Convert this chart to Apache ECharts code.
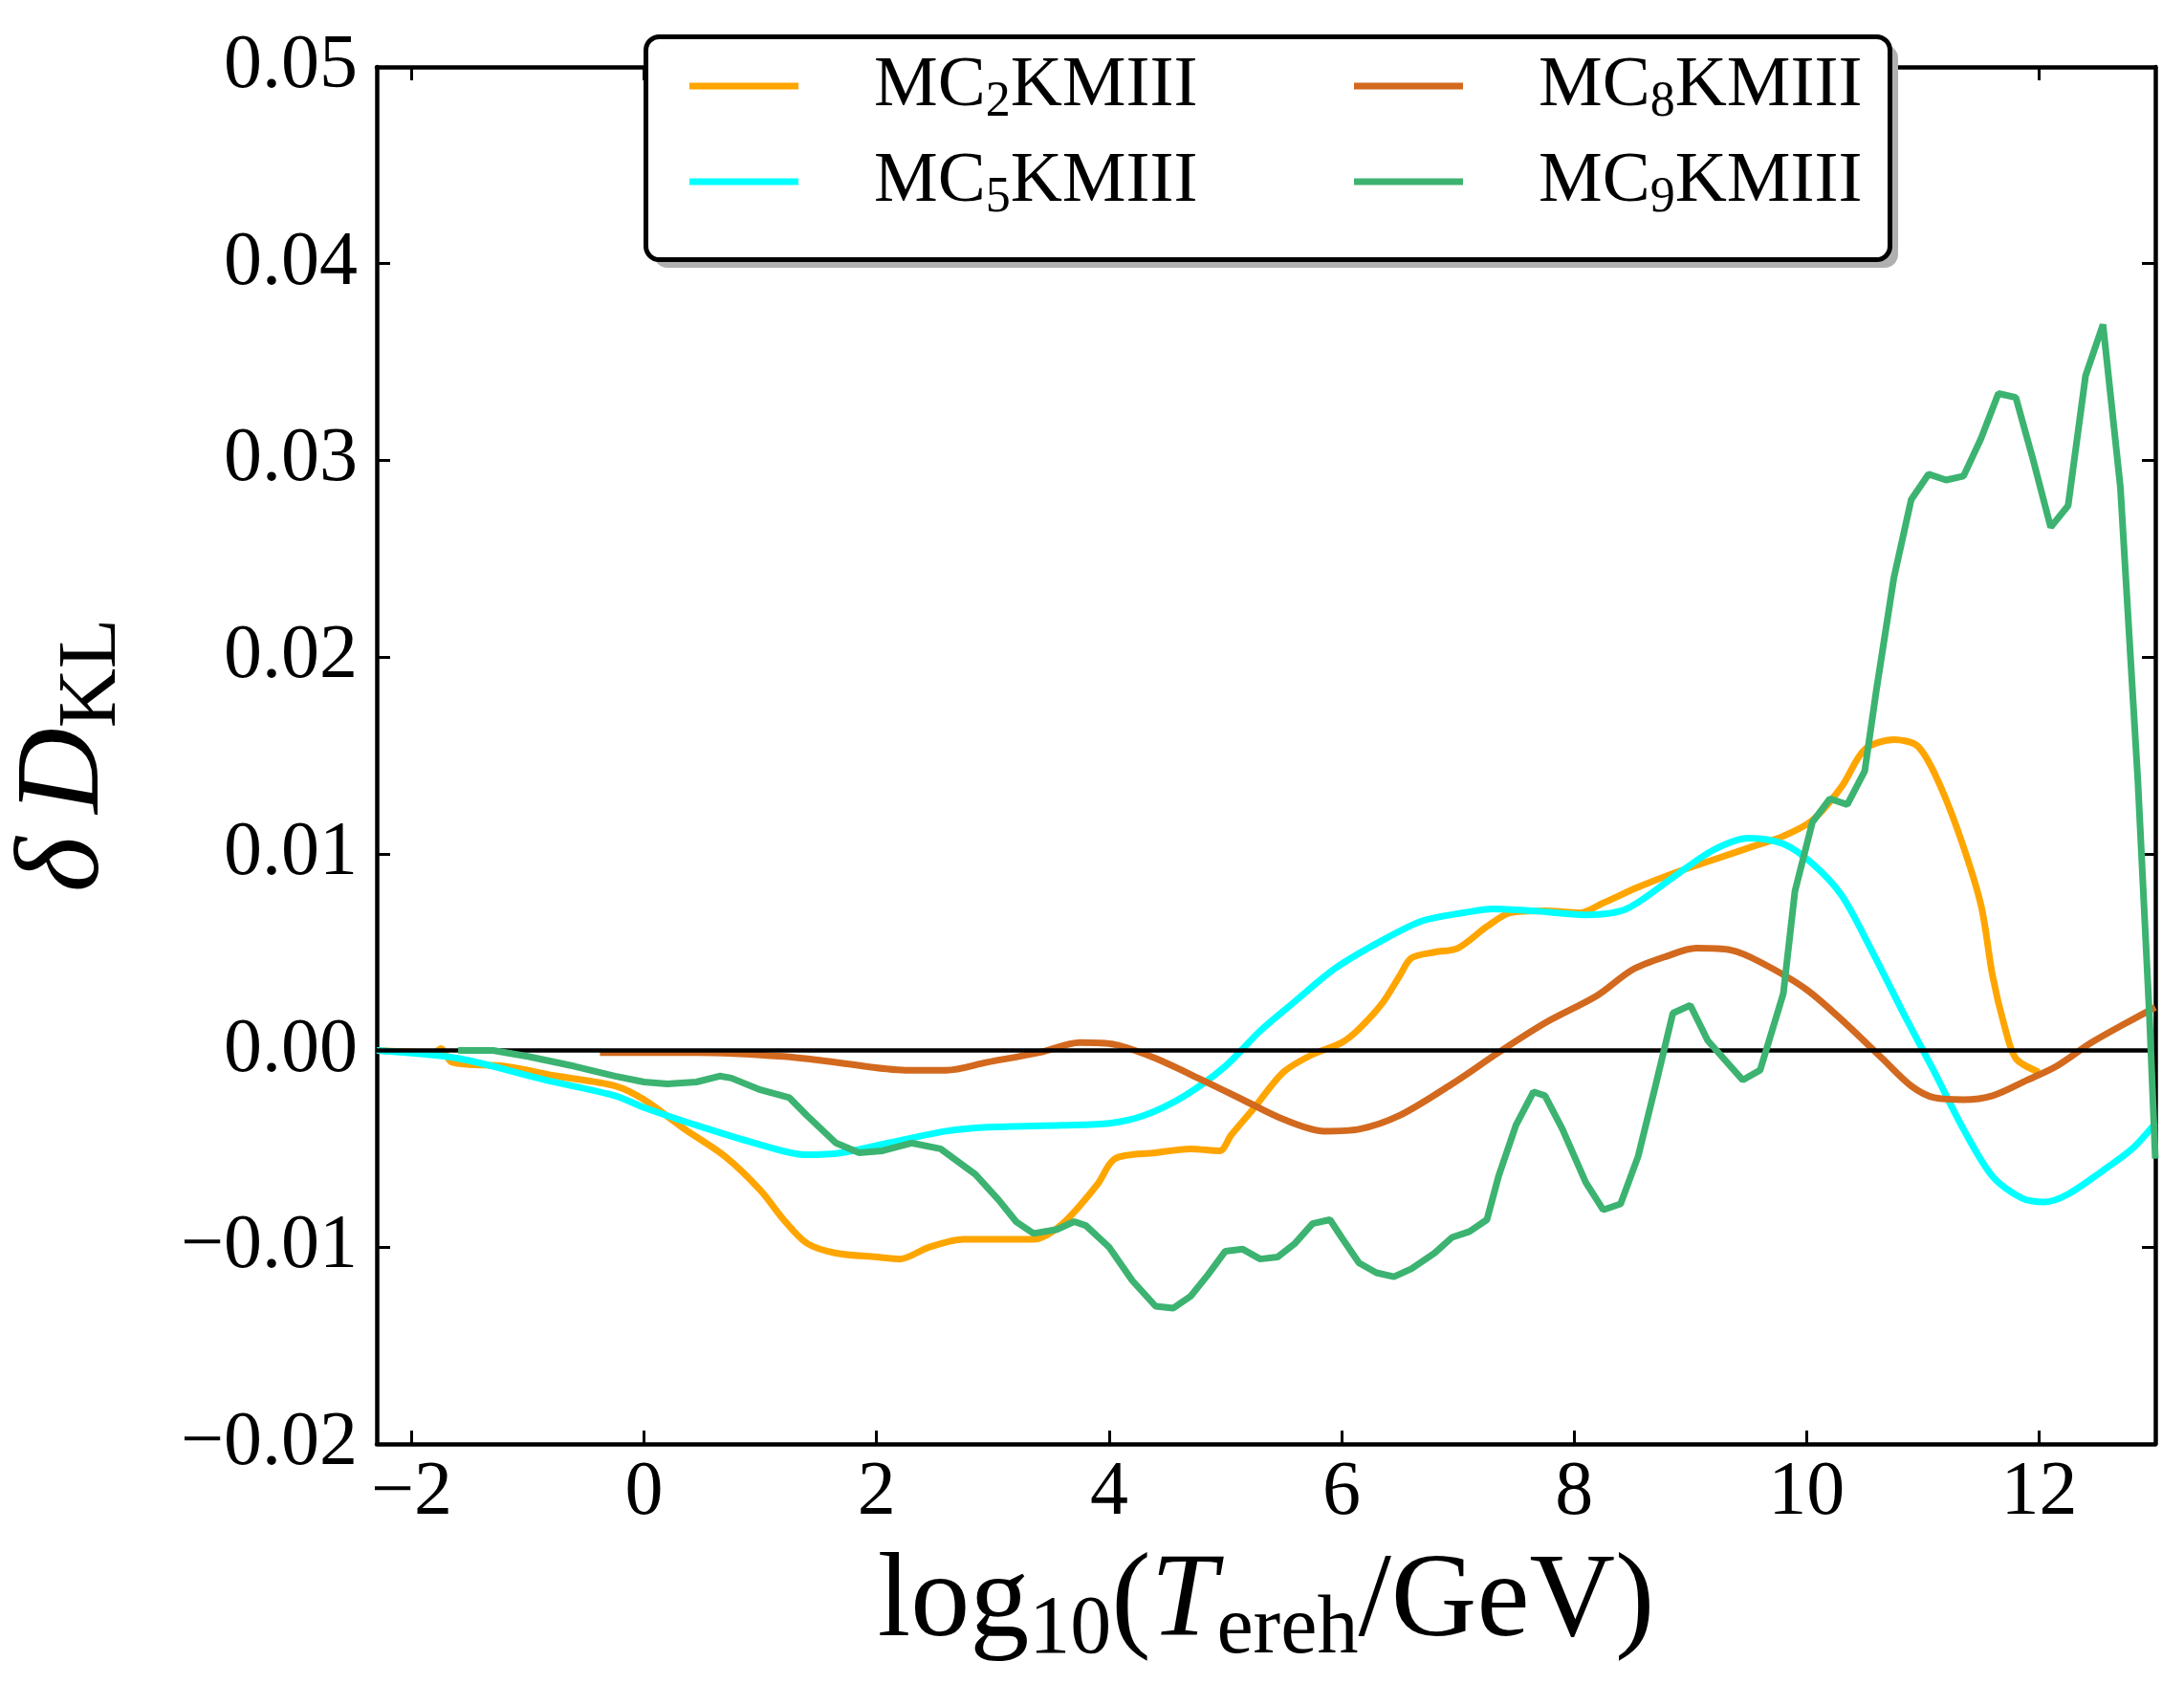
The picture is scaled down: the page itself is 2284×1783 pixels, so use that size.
<!DOCTYPE html>
<html><head><meta charset="utf-8">
<script src="https://cdn.jsdelivr.net/npm/echarts@6/dist/echarts.min.js"></script>
<style>html,body{margin:0;padding:0;background:#fff}#c{width:2284px;height:1783px}</style>
</head><body><div id="c"></div>
<script>
// ---- data ----
const seriesNames = ['MC2KMIII', 'MC5KMIII', 'MC8KMIII', 'MC9KMIII'];
const xTicks = [-2, 0, 2, 4, 6, 8, 10, 12];
const yTicks = [-0.02, -0.01, 0.00, 0.01, 0.02, 0.03, 0.04, 0.05];

const xMC2 = [-2.3,-1.8,-1.75,-1.65,-1.2,-0.75,-0.25,0,0.35,0.7,1.0,1.2,1.4,1.65,2.0,2.2,2.45,2.75,3.1,3.35,3.6,3.9,4.05,4.4,4.7,4.95,5.05,5.25,5.5,5.75,6.0,6.15,6.35,6.5,6.6,6.8,7.0,7.25,7.45,7.75,8.05,8.25,8.55,8.85,9.2,9.55,9.8,10.05,10.3,10.5,10.75,10.95,11.1,11.3,11.5,11.6,11.7,11.8,12.0];
const yMC2 = [0,-0.0001,0.0001,-0.0006,-0.0008,-0.0013,-0.0018,-0.0025,-0.004,-0.0054,-0.0071,-0.0086,-0.0098,-0.0103,-0.0105,-0.0106,-0.01,-0.0096,-0.0096,-0.0096,-0.0088,-0.0068,-0.0055,-0.0052,-0.005,-0.0051,-0.0043,-0.0029,-0.0011,-0.0002,0.0004,0.0011,0.0024,0.0038,0.0047,0.005,0.0052,0.0063,0.007,0.0071,0.007,0.0075,0.0083,0.009,0.0097,0.0104,0.0109,0.0117,0.0134,0.0153,0.0158,0.0155,0.0141,0.0112,0.0074,0.0038,0.0013,-0.0004,-0.0011];

const xMC5 = [-2.3,-1.6,-0.85,-0.25,0,0.45,0.95,1.4,1.7,2.1,2.6,2.95,3.6,4.0,4.3,4.65,5.0,5.3,5.6,5.95,6.35,6.7,7.05,7.3,7.65,8.1,8.45,8.85,9.2,9.5,9.8,10.05,10.3,10.55,10.85,11.1,11.35,11.6,11.85,12.05,12.25,12.55,12.8,13.0];
const yMC5 = [0,-0.0004,-0.0015,-0.0023,-0.0029,-0.0038,-0.0047,-0.0053,-0.0052,-0.0047,-0.0041,-0.0039,-0.0038,-0.0037,-0.0033,-0.0023,-0.0008,0.001,0.0025,0.0042,0.0056,0.0066,0.007,0.0072,0.0071,0.0069,0.0072,0.0088,0.0102,0.0108,0.0105,0.0095,0.0079,0.0052,0.0017,-0.0011,-0.004,-0.0064,-0.0075,-0.0077,-0.0073,-0.0061,-0.005,-0.0037];

const xMC8 = [-0.38,0.45,1.2,1.65,2.25,2.6,2.95,3.4,3.75,4.05,4.4,4.8,5.15,5.5,5.85,6.15,6.5,6.95,7.35,7.75,8.2,8.5,8.8,9.05,9.35,9.6,10.0,10.35,10.65,10.9,11.1,11.35,11.6,11.9,12.15,12.45,12.75,13.0];
const yMC8 = [-0.0001,-0.0001,-0.0003,-0.0006,-0.001,-0.001,-0.0006,-0.0001,0.0004,0.0003,-0.0004,-0.0015,-0.0025,-0.0035,-0.0041,-0.004,-0.0033,-0.0017,-0.0001,0.0014,0.0028,0.0041,0.0048,0.0052,0.0051,0.0045,0.0031,0.0013,-0.0004,-0.0018,-0.0024,-0.0025,-0.0023,-0.0015,-0.0008,0.0004,0.0014,0.0022];

const xMC9 = [-1.6,-1.3,-1.0,-0.6,-0.25,0.0,0.2,0.45,0.65,0.75,1.0,1.25,1.4,1.65,1.85,2.05,2.3,2.55,2.85,3.05,3.2,3.35,3.55,3.7,3.8,4.0,4.2,4.4,4.55,4.7,4.85,5.0,5.15,5.3,5.45,5.6,5.75,5.9,6.0,6.15,6.3,6.45,6.6,6.8,6.95,7.1,7.25,7.35,7.5,7.65,7.75,7.9,8.1,8.25,8.4,8.55,8.7,8.85,9.0,9.15,9.45,9.6,9.8,9.9,10.05,10.2,10.35,10.5,10.6,10.75,10.9,11.05,11.2,11.35,11.5,11.65,11.8,11.95,12.1,12.25,12.4,12.55,12.7,12.85,12.95,13.0];
const yMC9 = [0,0,-0.0003,-0.0008,-0.0013,-0.0016,-0.0017,-0.0016,-0.0013,-0.0014,-0.002,-0.0024,-0.0033,-0.0047,-0.0052,-0.0051,-0.0047,-0.005,-0.0063,-0.0076,-0.0087,-0.0093,-0.0091,-0.0087,-0.0089,-0.01,-0.0117,-0.013,-0.0131,-0.0125,-0.0114,-0.0102,-0.0101,-0.0106,-0.0105,-0.0098,-0.0088,-0.0086,-0.0095,-0.0108,-0.0113,-0.0115,-0.0111,-0.0103,-0.0095,-0.0092,-0.0086,-0.0064,-0.0038,-0.0021,-0.0023,-0.004,-0.0067,-0.0081,-0.0078,-0.0054,-0.0018,0.0019,0.0023,0.0005,-0.0015,-0.001,0.0029,0.0081,0.0116,0.0128,0.0125,0.0142,0.0183,0.024,0.028,0.0293,0.029,0.0292,0.0311,0.0334,0.0332,0.03,0.0266,0.0277,0.0343,0.0369,0.0286,0.0137,0.0017,-0.0055];

const colors = ['#FFA500', '#00FFFF', '#D2691E', '#3CB371'];

// ---- helpers ----
function zip(xs, ys) { return xs.map((x, i) => [x, ys[i]]); }
const FONT = 'Liberation Serif';
const minus = '\u2212';
function fmtX(v) { return v < 0 ? minus + Math.abs(v) : String(v); }
function fmtY(v) { return v < -1e-9 ? minus + Math.abs(v).toFixed(2) : Math.abs(v).toFixed(2); }
function legendFmt(n) { return n.replace(/^MC(\d)(.*)$/, '{m|MC}{s|$1}{m|$2}'); }

const chart = echarts.init(document.getElementById('c'), null, { renderer: 'canvas' });

const seriesData = [zip(xMC2, yMC2), zip(xMC5, yMC5), zip(xMC8, yMC8), zip(xMC9, yMC9)];

const series = seriesNames.map((n, i) => ({
  name: n,
  type: 'line',
  data: seriesData[i],
  showSymbol: false,
  symbol: 'none',
  smooth: i === 3 ? false : 0.3,
  lineStyle: { color: colors[i], width: 7 },
  itemStyle: { color: colors[i] },
  z: 2 + i,
  silent: true
}));
series[3].markLine = {
  silent: true, symbol: 'none', animation: false,
  label: { show: false },
  lineStyle: { color: '#000', width: 4.5, type: 'solid' },
  data: [{ yAxis: 0 }]
};

const legendText = {
  fontFamily: FONT, fontSize: 75, lineHeight: 86, color: '#000',
  padding: [0, 0, 0, 74],
  rich: {
    m: { fontFamily: FONT, fontSize: 75, lineHeight: 86, verticalAlign: 'middle', color: '#000' },
    s: { fontFamily: FONT, fontSize: 52, lineHeight: 42, verticalAlign: 'bottom', color: '#000' }
  }
};
const legendPos = [[721, 47], [721, 147], [1416, 47], [1416, 147]];
const legends = seriesNames.map((n, i) => ({
  data: [n], left: legendPos[i][0], top: legendPos[i][1],
  orient: 'horizontal', icon: 'rect', itemWidth: 114, itemHeight: 7,
  itemGap: 0, padding: 0, selectedMode: false, z: 30,
  formatter: legendFmt, textStyle: legendText
}));

const axisLineStyle = { color: '#000', width: 4.5 };
const tickStyle = { color: '#000', width: 3 };

const option = {
  animation: false,
  backgroundColor: '#fff',
  grid: { left: 394, right: 30, top: 70, bottom: 273, containLabel: false, outerBoundsMode: 'none' },
  legend: legends,
  graphic: [
    { type: 'rect', left: 684, top: 47, z: 20, shape: { width: 1301, height: 233, r: 14 }, style: { fill: '#b0b0b0' } },
    { type: 'rect', left: 673, top: 36, z: 21, shape: { width: 1301, height: 233, r: 14 }, style: { fill: '#fff', stroke: '#000', lineWidth: 5 } }
  ],
  xAxis: [
    {
      type: 'value', min: -2.3, max: 13, position: 'bottom',
      axisLine: { show: true, onZero: false, lineStyle: axisLineStyle },
      axisTick: { show: true, inside: true, length: 14, lineStyle: tickStyle, customValues: xTicks },
      axisLabel: { show: true, customValues: xTicks, formatter: fmtX, margin: 12, fontFamily: FONT, fontSize: 80, color: '#000' },
      splitLine: { show: false },
      name: '{m|log}{s|10}{m|(}{i|T}{s|ereh}{m|/GeV)}',
      nameLocation: 'middle', nameGap: 72,
      nameTextStyle: {
        fontFamily: FONT, fontSize: 124, lineHeight: 142, color: '#000',
        rich: {
          m: { fontFamily: FONT, fontSize: 124, lineHeight: 142, verticalAlign: 'middle', color: '#000' },
          i: { fontFamily: FONT, fontSize: 124, lineHeight: 142, fontStyle: 'italic', verticalAlign: 'middle', color: '#000' },
          s: { fontFamily: FONT, fontSize: 86, lineHeight: 60, verticalAlign: 'bottom', color: '#000' }
        }
      }
    },
    {
      type: 'value', min: -2.3, max: 13, position: 'top',
      axisLine: { show: true, onZero: false, lineStyle: axisLineStyle },
      axisTick: { show: true, inside: true, length: 14, lineStyle: tickStyle, customValues: xTicks },
      axisLabel: { show: false },
      splitLine: { show: false }
    }
  ],
  yAxis: [
    {
      type: 'value', min: -0.02, max: 0.05, interval: 0.01, position: 'left',
      axisLine: { show: true, onZero: false, lineStyle: axisLineStyle },
      axisTick: { show: true, inside: true, length: 14, lineStyle: tickStyle },
      axisLabel: { show: true, formatter: fmtY, margin: 20, fontFamily: FONT, fontSize: 80, color: '#000' },
      splitLine: { show: false },
      name: '{i|\u03b4\u2009D}{s|KL}',
      nameLocation: 'middle', nameRotate: 90, nameGap: 254,
      nameTextStyle: {
        fontFamily: FONT, fontSize: 124, lineHeight: 142, color: '#000',
        rich: {
          i: { fontFamily: FONT, fontSize: 124, lineHeight: 142, fontStyle: 'italic', verticalAlign: 'middle', color: '#000' },
          s: { fontFamily: FONT, fontSize: 86, lineHeight: 60, verticalAlign: 'bottom', color: '#000' }
        }
      }
    },
    {
      type: 'value', min: -0.02, max: 0.05, interval: 0.01, position: 'right',
      axisLine: { show: true, onZero: false, lineStyle: axisLineStyle },
      axisTick: { show: true, inside: true, length: 14, lineStyle: tickStyle },
      axisLabel: { show: false },
      splitLine: { show: false }
    }
  ],
  series: series
};
chart.setOption(option);
</script></body></html>
